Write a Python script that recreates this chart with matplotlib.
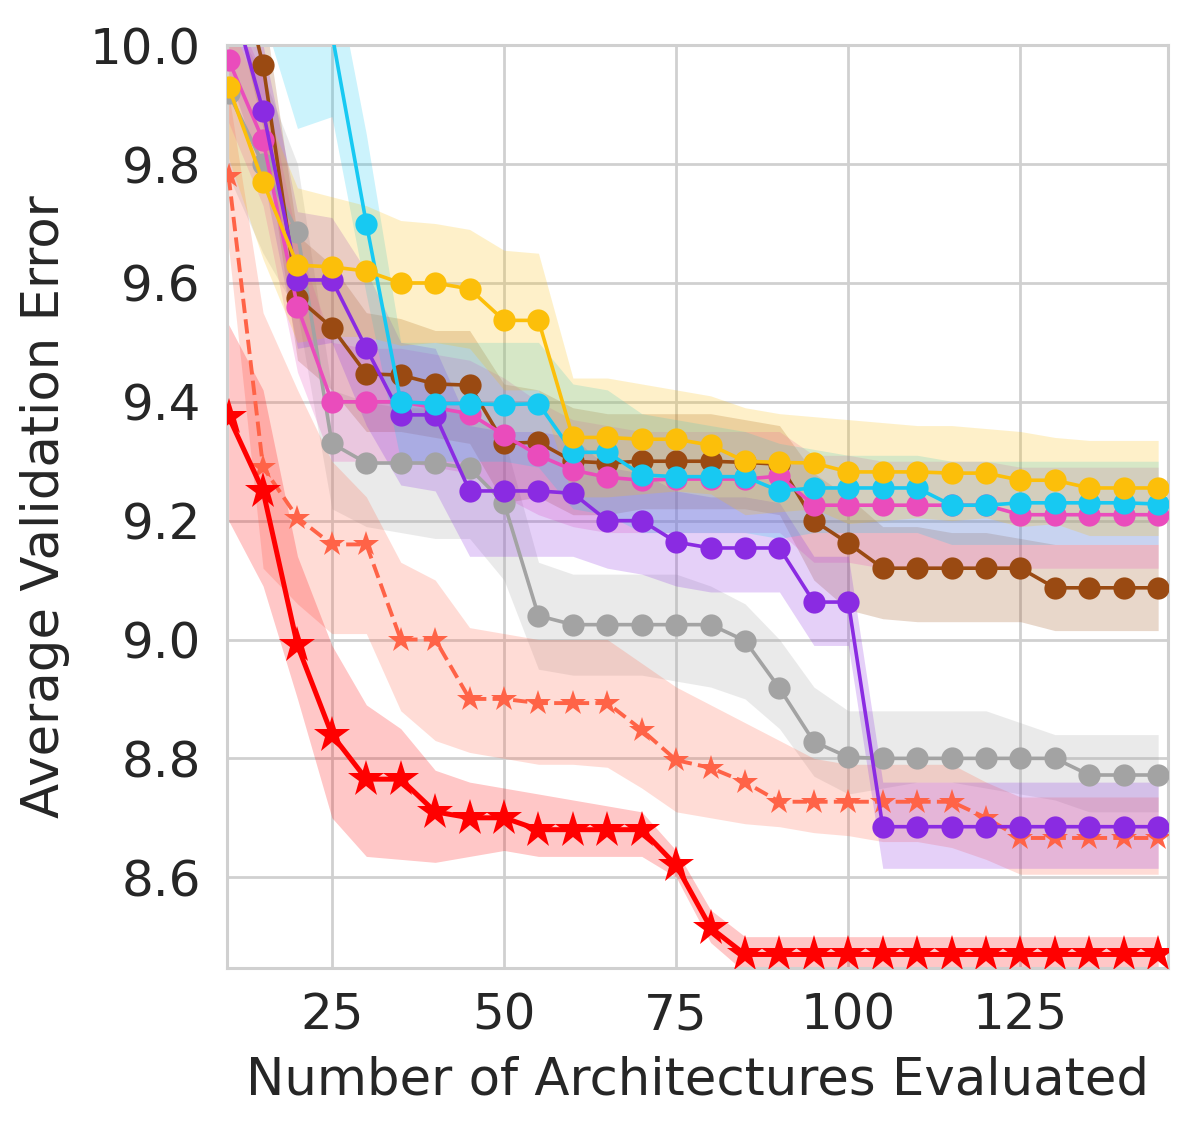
import numpy as np
import matplotlib
matplotlib.use("Agg")
import matplotlib.pyplot as plt

# ---------------- data ----------------
x_evals = list(range(10, 150, 5))

# red solid (stars)
red_mean = [9.375, 9.25, 8.99, 8.84, 8.765, 8.765, 8.71, 8.70, 8.70, 8.68, 8.68, 8.68, 8.68, 8.62,
            8.515] + [8.47] * 13
red_upper = [9.53, 9.42, 9.14, 8.99, 8.89, 8.85, 8.78, 8.76, 8.75, 8.74, 8.73, 8.72, 8.71, 8.645,
             8.545] + [8.50] * 13
red_lower = [9.20, 9.09, 8.90, 8.70, 8.635, 8.63, 8.625, 8.635, 8.645, 8.635, 8.635, 8.635, 8.635, 8.60,
             8.49] + [8.44] * 13

# tomato dashed (stars)
tom_mean = [9.78, 9.29, 9.205, 9.16, 9.16, 9.00, 9.00, 8.90, 8.90, 8.893, 8.893, 8.893, 8.848, 8.797,
            8.784, 8.76, 8.727, 8.727, 8.727, 8.727, 8.727, 8.727, 8.70, 8.666, 8.666, 8.666, 8.666, 8.666]
tom_upper = [9.92, 9.55, 9.42, 9.30, 9.24, 9.13, 9.10, 9.02, 9.01, 9.00, 9.00, 9.00, 8.96, 8.92,
             8.89, 8.86, 8.83, 8.80, 8.79, 8.79, 8.79, 8.79, 8.76, 8.735, 8.735, 8.735, 8.735, 8.735]
tom_lower = [9.66, 9.12, 9.06, 9.01, 9.01, 8.88, 8.83, 8.81, 8.80, 8.79, 8.79, 8.785, 8.75, 8.71,
             8.70, 8.69, 8.685, 8.675, 8.67, 8.66, 8.66, 8.65, 8.63, 8.605, 8.605, 8.605, 8.605, 8.605]

# gray
gray_mean = [9.92, 9.80, 9.685, 9.33, 9.297, 9.297, 9.297, 9.288, 9.23, 9.04, 9.025, 9.025, 9.025, 9.025,
             9.025, 8.998, 8.918, 8.828, 8.802, 8.80, 8.80, 8.80, 8.80, 8.80, 8.80, 8.772, 8.772, 8.772]
gray_upper = [10.05, 9.95, 9.80, 9.42, 9.40, 9.39, 9.39, 9.38, 9.34, 9.13, 9.11, 9.11, 9.11, 9.11,
              9.09, 9.06, 9.00, 8.92, 8.88, 8.88, 8.88, 8.88, 8.88, 8.86, 8.84, 8.84, 8.84, 8.84]
gray_lower = [9.78, 9.65, 9.55, 9.22, 9.19, 9.18, 9.17, 9.17, 9.10, 8.95, 8.94, 8.94, 8.94, 8.93,
              8.92, 8.90, 8.85, 8.77, 8.74, 8.75, 8.76, 8.76, 8.75, 8.74, 8.73, 8.71, 8.71, 8.71]

# purple
purple_mean = [10.1, 9.89, 9.605, 9.605, 9.49, 9.378, 9.378, 9.25, 9.25, 9.25, 9.246, 9.20, 9.20, 9.164,
               9.154, 9.154, 9.154, 9.063, 9.063] + [8.685] * 9
purple_upper = [10.25, 10.0, 9.72, 9.71, 9.62, 9.50, 9.49, 9.36, 9.35, 9.35, 9.34, 9.29, 9.28, 9.25,
                9.24, 9.24, 9.23, 9.14, 9.14] + [8.76] * 9
purple_lower = [9.95, 9.78, 9.49, 9.50, 9.36, 9.26, 9.25, 9.14, 9.14, 9.14, 9.14, 9.12, 9.11, 9.09,
                9.08, 9.08, 9.08, 8.99, 8.99] + [8.615] * 9

# brown
brown_mean = [10.2, 9.967, 9.575, 9.525, 9.447, 9.445, 9.43, 9.428, 9.33, 9.332, 9.30, 9.297, 9.30, 9.30,
              9.30, 9.298, 9.295, 9.20, 9.162, 9.12, 9.12, 9.12, 9.12, 9.12, 9.087, 9.087, 9.087, 9.087]
brown_upper = [10.3, 10.07, 9.68, 9.63, 9.55, 9.54, 9.52, 9.52, 9.43, 9.42, 9.39, 9.38, 9.38, 9.38,
               9.38, 9.37, 9.36, 9.28, 9.24, 9.19, 9.19, 9.18, 9.18, 9.17, 9.16, 9.16, 9.16, 9.16]
brown_lower = [10.1, 9.86, 9.47, 9.42, 9.35, 9.35, 9.34, 9.33, 9.23, 9.24, 9.21, 9.21, 9.22, 9.22,
               9.22, 9.22, 9.21, 9.10, 9.05, 9.035, 9.03, 9.03, 9.03, 9.03, 9.015, 9.015, 9.015, 9.015]

# pink
pink_mean = [9.975, 9.84, 9.56, 9.40, 9.40, 9.40, 9.39, 9.38, 9.344, 9.31, 9.285, 9.273, 9.268, 9.27,
             9.27, 9.27, 9.275, 9.226, 9.226, 9.226, 9.226, 9.226, 9.226, 9.21, 9.21, 9.21, 9.21, 9.21]
pink_upper = [10.08, 9.95, 9.67, 9.50, 9.49, 9.49, 9.48, 9.47, 9.44, 9.40, 9.37, 9.36, 9.35, 9.35,
              9.35, 9.35, 9.35, 9.31, 9.31, 9.30, 9.30, 9.30, 9.30, 9.29, 9.29, 9.29, 9.29, 9.29]
pink_lower = [9.87, 9.73, 9.45, 9.30, 9.30, 9.30, 9.29, 9.28, 9.24, 9.21, 9.19, 9.18, 9.18, 9.18,
              9.18, 9.18, 9.18, 9.13, 9.13, 9.12, 9.12, 9.12, 9.12, 9.12, 9.12, 9.12, 9.12, 9.12]

# cyan
cyan_mean = [10.6, 10.45, 10.2, 10.02, 9.70, 9.40, 9.397, 9.397, 9.395, 9.397, 9.315, 9.315, 9.277, 9.274,
             9.274, 9.274, 9.25, 9.255, 9.255, 9.255, 9.255, 9.226, 9.226, 9.23, 9.23, 9.23, 9.23, 9.228]
cyan_upper = [10.9, 10.7, 10.5, 10.15, 9.85, 9.50, 9.50, 9.50, 9.50, 9.50, 9.43, 9.42, 9.38, 9.37,
              9.36, 9.35, 9.33, 9.32, 9.31, 9.31, 9.31, 9.30, 9.30, 9.30, 9.30, 9.30, 9.30, 9.30]
cyan_lower = [10.3, 10.05, 9.86, 9.88, 9.58, 9.30, 9.30, 9.30, 9.30, 9.29, 9.22, 9.21, 9.18, 9.18,
              9.18, 9.18, 9.17, 9.18, 9.18, 9.18, 9.18, 9.16, 9.16, 9.16, 9.16, 9.16, 9.16, 9.16]

# yellow
yellow_mean = [9.93, 9.77, 9.63, 9.627, 9.62, 9.60, 9.60, 9.59, 9.537, 9.537, 9.34, 9.34, 9.337, 9.337,
               9.327, 9.30, 9.298, 9.297, 9.282, 9.282, 9.282, 9.28, 9.28, 9.268, 9.268, 9.255, 9.255, 9.255]
yellow_upper = [10.05, 9.90, 9.76, 9.745, 9.73, 9.705, 9.70, 9.69, 9.655, 9.65, 9.44, 9.44, 9.43, 9.42,
                9.41, 9.39, 9.38, 9.375, 9.37, 9.365, 9.36, 9.36, 9.355, 9.35, 9.34, 9.335, 9.335, 9.335]
yellow_lower = [9.81, 9.64, 9.50, 9.51, 9.51, 9.495, 9.50, 9.49, 9.42, 9.42, 9.24, 9.24, 9.245, 9.25,
                9.245, 9.21, 9.215, 9.22, 9.195, 9.20, 9.205, 9.20, 9.205, 9.19, 9.195, 9.175, 9.175, 9.175]

x_ticks = [25, 50, 75, 100, 125]
y_ticks = [8.6, 8.8, 9.0, 9.2, 9.4, 9.6, 9.8, 10.0]

# ---------------- style ----------------
plt.rcParams['font.family'] = ['DejaVu Sans']
fig = plt.figure(figsize=(11.96, 11.31), dpi=100)
ax = fig.add_axes([0.190, 0.144, 0.787, 0.816])
ax.set_facecolor('white')

band_alpha = 0.22
series = [
    # (mean, upper, lower, color, marker, ms, ls, lw, zorder)
    (gray_mean, gray_upper, gray_lower, '#a3a3a3', 'o', 16, '-', 2.6, 3),
    (tom_mean, tom_upper, tom_lower, '#ff6347', '*', 19, '--', 2.8, 4),
    (brown_mean, brown_upper, brown_lower, '#9a4a12', 'o', 16, '-', 2.6, 5),
    (pink_mean, pink_upper, pink_lower, '#ea4cbc', 'o', 16, '-', 2.6, 6),
    (purple_mean, purple_upper, purple_lower, '#8a2be2', 'o', 16, '-', 2.6, 7),
    (cyan_mean, cyan_upper, cyan_lower, '#17c9f2', 'o', 16, '-', 2.6, 8),
    (yellow_mean, yellow_upper, yellow_lower, '#fcbf0a', 'o', 16, '-', 2.6, 9),
    (red_mean, red_upper, red_lower, '#ff0000', '*', 28, '-', 3.6, 10),
]

for mean, up, lo, col, mk, ms, ls, lw, z in series:
    ax.fill_between(x_evals, lo, up, color=col, alpha=band_alpha, linewidth=0, zorder=1)
for mean, up, lo, col, mk, ms, ls, lw, z in series:
    ax.plot(x_evals, mean, color=col, marker=mk, markersize=ms, linestyle=ls, linewidth=lw,
            markeredgewidth=0, zorder=z)

ax.set_xlim(9.8, 146.5)
ax.set_ylim(8.447, 10.0)
ax.set_xticks(x_ticks)
ax.set_yticks(y_ticks)
ax.set_yticklabels([f"{v:.1f}" for v in y_ticks])

ax.grid(True, color='#d0d0d0', linewidth=2.0, zorder=0)
ax.set_axisbelow(True)
for s in ax.spines.values():
    s.set_color('#d0d0d0')
    s.set_linewidth(2.2)

ax.tick_params(axis='both', length=0, labelsize=36, labelcolor='#262626')
ax.tick_params(axis='x', pad=17)
ax.tick_params(axis='y', pad=19)
ax.set_xlabel('Number of Architectures Evaluated', fontsize=37, color='#262626', labelpad=11)
ax.set_ylabel('Average Validation Error', fontsize=37, color='#262626', labelpad=14)

fig.savefig('out.png', dpi=100, facecolor='white')
